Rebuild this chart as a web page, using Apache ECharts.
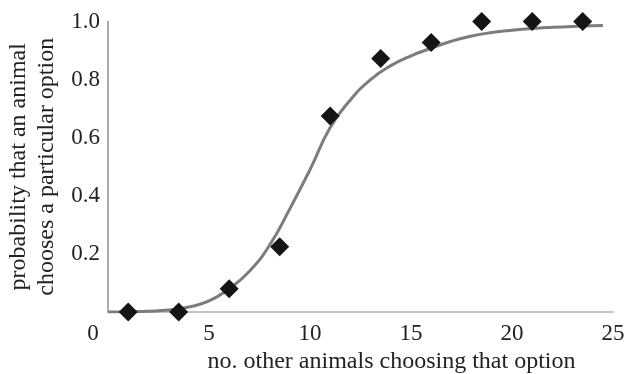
<!DOCTYPE html>
<html>
<head>
<meta charset="utf-8">
<script src="https://cdn.jsdelivr.net/npm/echarts@6/dist/echarts.min.js"></script>
<style>
html,body{margin:0;padding:0;background:#fff;}
#chart{width:625px;height:374px;}
</style>
</head>
<body>
<div id="chart"></div>
<script>
// observed data (diamonds)
var pointX = [1, 3.5, 6, 8.5, 11, 13.5, 16, 18.5, 21, 23.5];
var pointY = [0, 0, 0.08, 0.225, 0.675, 0.873, 0.928, 1.0, 1.0, 1.0];
// fitted curve
var curveX = [0, 1, 2, 3, 4, 5, 6, 7, 8, 9, 10, 11, 12, 13, 14, 15, 16, 17, 18, 19, 20, 21, 22, 23, 24, 24.5];
var curveY = [0, 0.001, 0.003, 0.007, 0.017, 0.038, 0.08, 0.14, 0.23, 0.355, 0.49, 0.635, 0.73, 0.80, 0.848, 0.882, 0.908, 0.932, 0.95, 0.962, 0.97, 0.976, 0.98, 0.983, 0.985, 0.986];
// axis ticks
var xTicks = [0, 5, 10, 15, 20, 25];
var yTicks = [0, 0.2, 0.4, 0.6, 0.8, 1.0];
var xTitle = 'no. other animals choosing that option';
var yTitle = 'probability that an animal\nchooses a particular option';

var font = 'Liberation Serif';
var chart = echarts.init(document.getElementById('chart'));
chart.setOption({
  animation: false,
  grid: {left: 108, right: 12, top: 21.5, bottom: 62, containLabel: false, outerBoundsMode: 'none'},
  xAxis: {
    type: 'value', min: xTicks[0], max: xTicks[xTicks.length - 1], interval: 5,
    axisLine: {show: true, lineStyle: {color: '#b0b0b0', width: 1.5}},
    axisTick: {show: false},
    splitLine: {show: false},
    axisLabel: {
      fontFamily: font, fontSize: 23, color: '#222', margin: 10,
      formatter: function (v) { return v === 0 ? '{z|0}' : String(v); },
      rich: {z: {fontFamily: font, fontSize: 23, color: '#222', padding: [0, 30, 0, 0]}}
    },
    name: xTitle, nameLocation: 'middle', nameGap: 34,
    nameTextStyle: {fontFamily: font, fontSize: 24, color: '#222', padding: [0, 0, 0, 62]}
  },
  yAxis: {
    type: 'value', min: yTicks[0], max: yTicks[yTicks.length - 1], interval: 0.2,
    axisLine: {show: true, lineStyle: {color: '#909090', width: 1.5}},
    axisTick: {show: false},
    splitLine: {show: false},
    axisLabel: {
      fontFamily: font, fontSize: 23, color: '#222', margin: 8,
      formatter: function (v) { return v === 0 ? '' : v.toFixed(1); }
    },
    name: yTitle, nameLocation: 'middle', nameGap: 44,
    nameTextStyle: {fontFamily: font, fontSize: 24, color: '#222', lineHeight: 28}
  },
  series: [
    {
      type: 'line', smooth: 0.5, showSymbol: false, silent: true,
      data: curveX.map(function (x, i) { return [x, curveY[i]]; }),
      lineStyle: {color: '#7c7c7c', width: 3},
      z: 2
    },
    {
      type: 'scatter', symbol: 'diamond', symbolSize: [19, 19],
      data: pointX.map(function (x, i) { return [x, pointY[i]]; }),
      itemStyle: {color: '#151515', opacity: 1},
      z: 3
    }
  ]
});
</script>
</body>
</html>
